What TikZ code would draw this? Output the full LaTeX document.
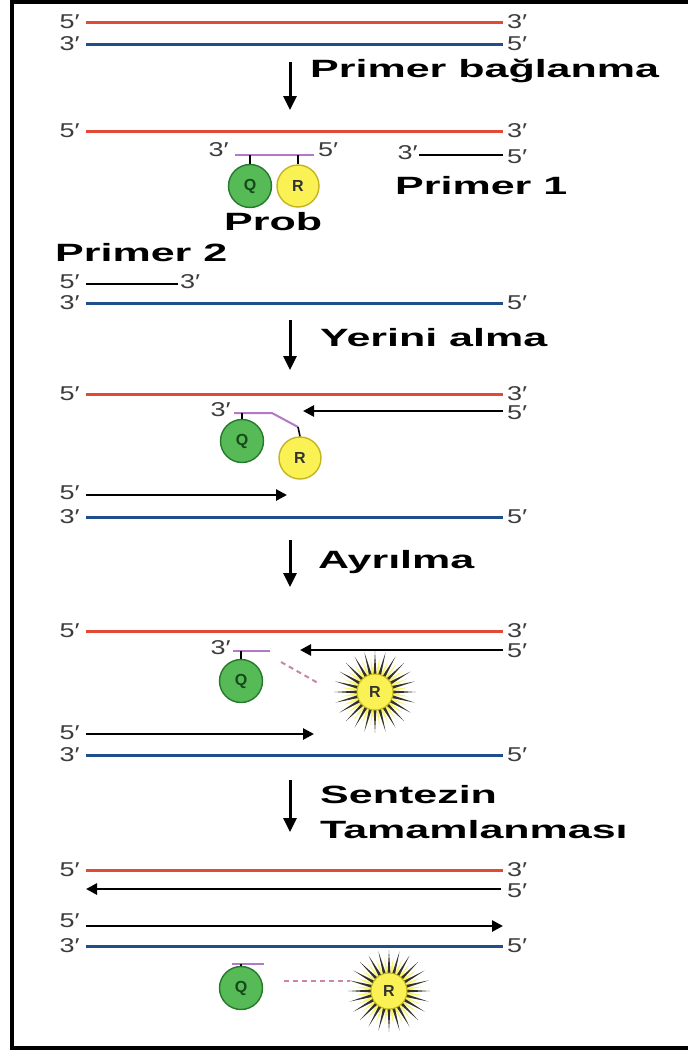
\documentclass[tikz,border=0pt]{standalone}
\usepackage{fontspec}
\setmainfont{Liberation Sans}
\usetikzlibrary{arrows.meta,calc}

\definecolor{strandred}{RGB}{226,74,54}
\definecolor{strandblue}{RGB}{32,78,138}
\definecolor{probeviolet}{RGB}{178,122,198}
\definecolor{cleavepink}{RGB}{204,132,170}
\definecolor{qgreen}{RGB}{86,186,86}
\definecolor{qedge}{RGB}{38,120,44}
\definecolor{ryellow}{RGB}{250,242,84}
\definecolor{redge}{RGB}{196,180,30}
\definecolor{endgrey}{RGB}{60,60,60}
\definecolor{raydark}{RGB}{50,50,40}

% stretched lettering
\newcommand{\wideb}[1]{\scalebox{1.72}[1]{#1}}
\newcommand{\widen}[1]{\scalebox{1.35}[1]{#1}}

\tikzset{
  redstrand/.style={draw=strandred, line width=3pt},
  bluestrand/.style={draw=strandblue, line width=3pt},
  newstrand/.style={draw=black, line width=2.6pt},
  extend/.style={newstrand, -{Triangle[length=11pt,width=11pt]}},
  stepdown/.style={draw=black, line width=3pt, -{Triangle[length=14pt,width=13pt]}},
  endlbl/.style={inner sep=0pt, text=endgrey, font=\fontsize{20}{20}\selectfont},
  steplbl/.style={inner sep=0pt, anchor=west, font=\fontsize{25}{30}\selectfont\bfseries},
  probe/.style={draw=probeviolet, line width=2pt},
  stem/.style={draw=black, line width=1.6pt},
  cut/.style={draw=cleavepink, line width=2pt, dash pattern=on 5pt off 4pt},
  quencher/.style={circle, minimum size=43pt, inner sep=0pt, fill=qgreen, draw=qedge,
    line width=1.4pt, text=qedge!60!black, font=\fontsize{16}{16}\selectfont\bfseries},
  reporter/.style={circle, minimum size=42pt, inner sep=0pt, fill=ryellow, draw=redge,
    line width=1.4pt, text=black!80, font=\fontsize{16}{16}\selectfont\bfseries},
  glowcore/.style={circle, minimum size=36pt, inner sep=0pt, fill=ryellow, draw=redge,
    line width=1pt, text=black!80, font=\fontsize{16}{16}\selectfont\bfseries},
}

% a strand between two ends with its end labels
\newcommand{\strand}[5]{% style, y, left label, right label, name
  \coordinate (#5-a) at (86,#2);
  \coordinate (#5-b) at (503,#2);
  \draw[#1] (#5-a) -- (#5-b);
  \node[endlbl, anchor=east] (#5-l) at (80,#2) {\widen{#3}};
  \node[endlbl, anchor=west] (#5-r) at (507,#2) {\widen{#4}};
}

% a free reporter dye drawn as a starburst
\newcommand{\burst}[2]{% name, position
  \coordinate (#1) at #2;
  \foreach \a in {7.5,22.5,...,360} {
    \fill[ryellow!85!white] ($(#1)+(\a-6:16)$) -- ($(#1)+(\a:34)$) -- ($(#1)+(\a+6:16)$) -- cycle;
  }
  \foreach \a in {0,15,...,345} {
    \fill[raydark] ($(#1)+(\a-5.5:16)$) -- ($(#1)+(\a:41)$) -- ($(#1)+(\a+5.5:16)$) -- cycle;
  }
  \node[glowcore] (#1-dye) at (#1) {R};
}

\begin{document}
\begin{tikzpicture}[x=1pt, y=-1pt]
\useasboundingbox (0,0) rectangle (688,1052);
\fill[white] (0,0) rectangle (688,1052);
% frame
\draw[line width=4pt, line cap=butt] (688,2) -- (12,2) -- (12,1048) -- (688,1048);

% ---- starting duplex
\strand{redstrand}{22}{5′}{3′}{d1t}
\strand{bluestrand}{44}{3′}{5′}{d1b}

\coordinate (s1a) at (290,62);
\coordinate (s1b) at (290,110);
\draw[stepdown] (s1a) -- (s1b);
\node[steplbl] (s1) at (310,71) {\wideb{Primer bağlanma}};

% ---- primer and probe annealing
\strand{redstrand}{131}{5′}{3′}{d2t}
\node[endlbl, anchor=east] (p2l) at (229,150) {\widen{3′}};
\node[endlbl, anchor=west] (p2r) at (318,150) {\widen{5′}};
\coordinate (pa) at (235,155);
\coordinate (pb) at (314,155);
\draw[probe] (pa) -- (pb);
\node[quencher] (q2) at (250,186) {Q};
\node[reporter] (r2) at (298,186) {R};
\draw[stem] (250,155) -- (q2.north);
\draw[stem] (298,155) -- (r2.north);
\node[endlbl, anchor=east] (f1l) at (418,153) {\widen{3′}};
\node[endlbl, anchor=west] (f1r) at (507,157) {\widen{5′}};
\coordinate (f1a) at (419,155);
\coordinate (f1b) at (503,155);
\draw[newstrand] (f1a) -- (f1b);
\node[steplbl] (pr1) at (395,186) {\wideb{Primer 1}};
\node[steplbl] (prob) at (224,222) {\wideb{Prob}};

\node[steplbl] (pr2) at (55,253) {\wideb{Primer 2}};
\node[endlbl, anchor=east] (f2l) at (80,282) {\widen{5′}};
\node[endlbl, anchor=west] (f2r) at (180,282) {\widen{3′}};
\coordinate (f2a) at (86,284);
\coordinate (f2b) at (178,284);
\draw[newstrand] (f2a) -- (f2b);
\strand{bluestrand}{303}{3′}{5′}{d2b}

\coordinate (s2a) at (290,320);
\coordinate (s2b) at (290,370);
\draw[stepdown] (s2a) -- (s2b);
\node[steplbl] (s2) at (320,338) {\wideb{Yerini alma}};

% ---- strand displacement
\strand{redstrand}{394}{5′}{3′}{d3t}
\node[endlbl, anchor=east] (p3l) at (231,410) {\widen{3′}};
\coordinate (p3a) at (234,413);
\coordinate (p3k) at (272,413);
\coordinate (p3b) at (298,427);
\draw[probe, line join=round] (p3a) -- (p3k) -- (p3b);
\node[quencher] (q3) at (242,441) {Q};
\node[reporter] (r3) at (300,458) {R};
\draw[stem] (242,413) -- (q3.north);
\draw[stem] (p3b) -- (r3.north);
\coordinate (e3a) at (503,411);
\coordinate (e3b) at (303,411);
\draw[extend] (e3a) -- (e3b);
\node[endlbl, anchor=west] (e3r) at (507,413) {\widen{5′}};

\node[endlbl, anchor=east] (e3l) at (80,493) {\widen{5′}};
\coordinate (g3a) at (86,495);
\coordinate (g3b) at (287,495);
\draw[extend] (g3a) -- (g3b);
\strand{bluestrand}{517}{3′}{5′}{d3b}

\coordinate (s3a) at (290,540);
\coordinate (s3b) at (290,587);
\draw[stepdown] (s3a) -- (s3b);
\node[steplbl] (s3) at (318,562) {\wideb{Ayrılma}};

% ---- cleavage
\strand{redstrand}{631}{5′}{3′}{d4t}
\node[endlbl, anchor=east] (p4l) at (231,648) {\widen{3′}};
\coordinate (p4a) at (233,651);
\coordinate (p4b) at (270,651);
\draw[probe] (p4a) -- (p4b);
\node[quencher] (q4) at (241,681) {Q};
\draw[stem] (241,651) -- (q4.north);
\burst{r4}{(375,692)}
\coordinate (c4a) at (281,662);
\coordinate (c4b) at (318,683);
\draw[cut] (c4a) -- (c4b);
\coordinate (e4a) at (503,650);
\coordinate (e4b) at (300,650);
\draw[extend] (e4a) -- (e4b);
\node[endlbl, anchor=west] (e4r) at (507,651) {\widen{5′}};

\node[endlbl, anchor=east] (e4l) at (80,733) {\widen{5′}};
\coordinate (g4a) at (86,734);
\coordinate (g4b) at (314,734);
\draw[extend] (g4a) -- (g4b);
\strand{bluestrand}{755}{3′}{5′}{d4b}

\coordinate (s4a) at (290,780);
\coordinate (s4b) at (290,832);
\draw[stepdown] (s4a) -- (s4b);
\node[steplbl] (s4t) at (320,795) {\wideb{Sentezin}};
\node[steplbl] (s4u) at (320,830) {\wideb{Tamamlanması}};

% ---- completed synthesis
\strand{redstrand}{870}{5′}{3′}{d5t}
\coordinate (e5a) at (501,889);
\coordinate (e5b) at (86,889);
\draw[extend] (e5a) -- (e5b);
\node[endlbl, anchor=west] (e5r) at (507,891) {\widen{5′}};
\node[endlbl, anchor=east] (g5l) at (80,921) {\widen{5′}};
\coordinate (g5a) at (86,926);
\coordinate (g5b) at (503,926);
\draw[extend] (g5a) -- (g5b);
\strand{bluestrand}{946}{3′}{5′}{d5b}

\coordinate (p5a) at (232,964);
\coordinate (p5b) at (264,964);
\draw[probe] (p5a) -- (p5b);
\node[quencher] (q5) at (241,988) {Q};
\draw[stem] (241,964) -- (q5.north);
\burst{r5}{(389,991)}
\coordinate (c5a) at (284,981);
\coordinate (c5b) at (350,981);
\draw[cut] (c5a) -- (c5b);
\end{tikzpicture}
\end{document}
